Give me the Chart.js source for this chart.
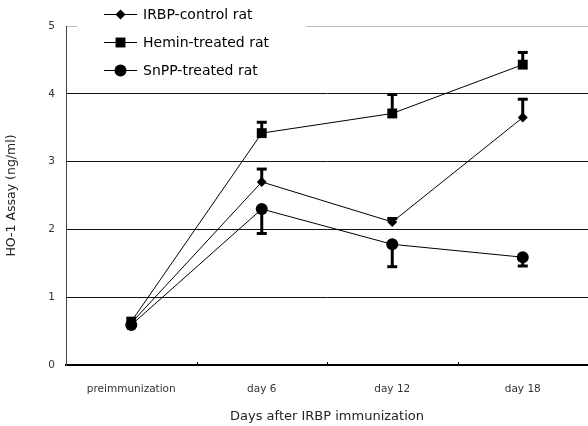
<!DOCTYPE html>
<html>
<head>
<meta charset="utf-8">
<script src="https://cdn.jsdelivr.net/npm/chart.js@4"></script>
<style>
  html, body { margin: 0; padding: 0; background: #fff; }
  #wrap { width: 588px; height: 426px; }
</style>
</head>
<body>
<div id="wrap"><canvas id="hoChart" width="588" height="426"></canvas></div>
<script>
// 범주와 값
const categories = ['preimmunization', 'day 6', 'day 12', 'day 18'];
const irbpValues = [0.62, 2.70, 2.11, 3.65];
const heminValues = [0.64, 3.42, 3.71, 4.43];
const snppValues = [0.59, 2.30, 1.78, 1.59];
// 오차 막대 끝 값 (null = 없음)
const irbpErrEnd = [null, 2.89, 2.16, 3.92];
const heminErrEnd = [null, 3.58, 3.99, 4.61];
const snppErrEnd = [null, 1.94, 1.45, 1.46];
const yTicks = [0, 1, 2, 3, 4, 5];
const legendNames = ['IRBP-control rat', 'Hemin-treated rat', 'SnPP-treated rat'];

const FONT = "'DejaVu Sans', sans-serif";

// 오차 막대 그리기
const errorBars = {
  id: 'errorBars',
  beforeDatasetsDraw(chart) {
    const ctx = chart.ctx;
    const x = chart.scales.x, y = chart.scales.y;
    ctx.save();
    ctx.strokeStyle = '#000';
    ctx.lineCap = 'butt';
    chart.data.datasets.forEach(ds => {
      ds.errEnd.forEach((end, i) => {
        if (end === null) return;
        const px = x.getPixelForValue(i);
        const p0 = y.getPixelForValue(ds.data[i]);
        const p1 = y.getPixelForValue(end);
        ctx.lineWidth = 3;
        ctx.beginPath();
        ctx.moveTo(px, p0);
        ctx.lineTo(px, p1);
        ctx.stroke();
        ctx.beginPath();
        ctx.moveTo(px - 5, p1);
        ctx.lineTo(px + 5, p1);
        ctx.stroke();
      });
    });
    // x축 눈금 (위쪽으로)
    ctx.lineWidth = 1;
    for (let i = 1; i < categories.length; i++) {
      const px = Math.round((x.getPixelForValue(i - 1) + x.getPixelForValue(i)) / 2) + 0.5;
      ctx.beginPath();
      ctx.moveTo(px, y.bottom);
      ctx.lineTo(px, y.bottom - 3);
      ctx.stroke();
    }
    ctx.restore();
  },
  afterDraw(chart) {
    // 범례
    const ctx = chart.ctx;
    ctx.save();
    ctx.fillStyle = '#fff';
    ctx.fillRect(77, 0, 229, 88);
    const styles = ['rectRot', 'rect', 'circle'];
    const radii = [5, 7, 6];
    const rows = [14, 42, 70];
    ctx.font = '14px ' + FONT;
    ctx.textBaseline = 'middle';
    rows.forEach((ry, i) => {
      ctx.strokeStyle = '#000';
      ctx.lineWidth = 1;
      ctx.beginPath();
      ctx.moveTo(104, ry + 0.5);
      ctx.lineTo(137, ry + 0.5);
      ctx.stroke();
      ctx.fillStyle = '#000';
      Chart.helpers.drawPoint(ctx, { pointStyle: styles[i], radius: radii[i], borderWidth: 0 }, 120.5, ry + 0.5);
      ctx.fillStyle = '#000';
      ctx.fillText(legendNames[i], 143, ry + 1);
    });
    ctx.restore();
  }
};

const mk = (label, data, errEnd, style, r) => ({
  label, data, errEnd,
  borderColor: '#000',
  borderWidth: 1,
  backgroundColor: '#000',
  pointStyle: style,
  pointRadius: r,
  pointBackgroundColor: '#000',
  pointBorderColor: '#000',
  pointBorderWidth: 0,
  tension: 0
});

const config = {
  type: 'line',
  data: {
    labels: categories,
    datasets: [
      mk(legendNames[0], irbpValues, irbpErrEnd, 'rectRot', 5),
      mk(legendNames[1], heminValues, heminErrEnd, 'rect', 7),
      mk(legendNames[2], snppValues, snppErrEnd, 'circle', 6)
    ]
  },
  options: {
    responsive: false,
    animation: false,
    layout: { autoPadding: false, padding: { top: 26, right: -2, left: 0, bottom: 0 } },
    plugins: {
      legend: { display: false },
      tooltip: { enabled: false }
    },
    scales: {
      x: {
        offset: true,
        grid: { display: false, offset: true },
        border: { display: true, color: '#000', width: 2 },
        ticks: { padding: 10, color: '#333', font: { family: FONT, size: 10.5 }, maxRotation: 0 },
        title: { display: true, text: 'Days after IRBP immunization', color: '#222', font: { family: FONT, size: 13 }, padding: { top: 0, bottom: 2 } },
        afterFit: s => { s.height = 61; }
      },
      y: {
        min: 0, max: 5,
        afterBuildTicks: s => { s.ticks = yTicks.map(v => ({ value: v })); },
        grid: {
          drawTicks: false,
          color: c => c.tick.value === 5 ? '#bbb' : (c.tick.value === 0 ? 'rgba(0,0,0,0)' : '#111'),
          lineWidth: 1
        },
        border: { display: true, color: '#444', width: 1 },
        ticks: { padding: 11, color: '#333', font: { family: FONT, size: 10.5 } },
        title: { display: true, text: 'HO-1 Assay (ng/ml)', color: '#222', font: { family: FONT, size: 12.5 }, padding: { top: 4, bottom: 0 } },
        afterFit: s => { s.width = 66; }
      }
    }
  },
  plugins: [errorBars]
};

new Chart(document.getElementById('hoChart'), config);
</script>
</body>
</html>
